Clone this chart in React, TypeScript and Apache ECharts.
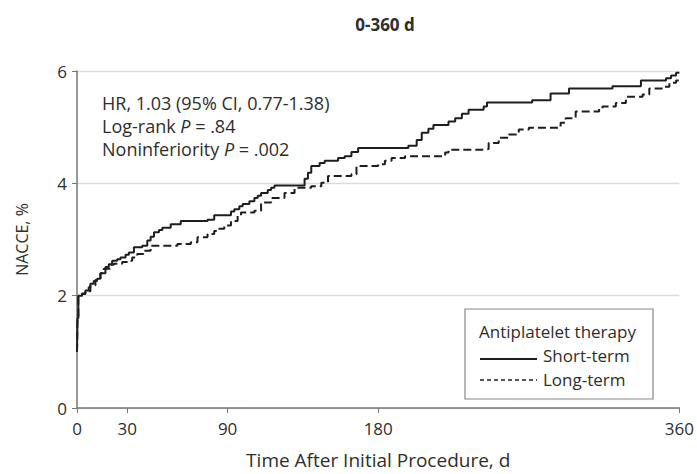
import React, { useEffect, useRef } from "react";
import * as echarts from "echarts";

const chartTitle = "0-360 d";
const xAxisName = "Time After Initial Procedure, d";
const yAxisName = "NACCE, %";
const xTickValues = [0, 30, 90, 180, 360];
const yMin = 0;
const yMax = 6;
const yInterval = 2;
const legendTitle = "Antiplatelet therapy";
const seriesNames = ["Short-term", "Long-term"];

// [day, cumulative incidence %] at each step
const shortTerm: [number, number][] = [
  [0, 1.0], [0.3, 1.6], [0.8, 2.0], [3, 2.04], [5, 2.09], [7, 2.15], [8, 2.21], [10, 2.26],
  [12, 2.3], [14, 2.4], [17, 2.51], [19, 2.56], [21, 2.62], [24, 2.65], [26, 2.68], [29, 2.73],
  [31, 2.77], [34, 2.86], [39, 2.89], [42, 2.98], [44, 3.05], [46, 3.13], [49, 3.17], [51, 3.21],
  [56, 3.27], [62, 3.33], [78, 3.35], [82, 3.43], [92, 3.5], [94, 3.54], [97, 3.59], [99, 3.63],
  [103, 3.68], [106, 3.74], [108, 3.78], [110, 3.83], [114, 3.88], [116, 3.92], [118, 3.96],
  [136, 4.08], [138, 4.19], [140, 4.31], [145, 4.36], [148, 4.4], [156, 4.45], [160, 4.48],
  [164, 4.56], [168, 4.63], [198, 4.67], [203, 4.77], [206, 4.9], [210, 4.97], [213, 5.04],
  [222, 5.1], [226, 5.16], [230, 5.24], [234, 5.31], [243, 5.37], [245, 5.44], [272, 5.48],
  [283, 5.6], [294, 5.69], [320, 5.73], [337, 5.83], [352, 5.87], [355, 5.92], [358, 5.97],
  [360, 5.97],
];

const longTerm: [number, number][] = [
  [0, 1.0], [0.3, 1.6], [0.8, 1.98], [3, 2.03], [5, 2.08], [8, 2.18], [11, 2.28], [14, 2.4],
  [16, 2.48], [20, 2.55], [22, 2.57], [27, 2.6], [30, 2.62], [33, 2.68], [36, 2.74], [40, 2.8],
  [44, 2.89], [60, 2.92], [68, 2.95], [72, 3.04], [78, 3.1], [82, 3.15], [84, 3.19], [88, 3.25],
  [92, 3.33], [96, 3.42], [98, 3.48], [106, 3.51], [110, 3.66], [116, 3.74], [124, 3.83],
  [130, 3.92], [140, 3.95], [146, 4.01], [150, 4.13], [164, 4.16], [167, 4.31], [180, 4.34],
  [184, 4.4], [188, 4.45], [196, 4.48], [220, 4.55], [222, 4.6], [242, 4.61], [246, 4.72],
  [252, 4.81], [258, 4.87], [264, 4.96], [270, 4.99], [289, 5.08], [292, 5.16], [298, 5.28],
  [312, 5.33], [314, 5.37], [322, 5.43], [328, 5.54], [338, 5.58], [342, 5.69], [350, 5.72],
  [354, 5.79], [358, 5.83], [360, 5.83],
];

const FONT = "'Open Sans', Roboto, sans-serif";
const TEXT = "#2e2e2e";
const FS = 17;
const AFS = 18;

export default function App() {
  const ref = useRef<HTMLDivElement>(null);
  useEffect(() => {
    if (!ref.current) return;
    const chart = echarts.init(ref.current, null, { renderer: "svg" });
    const base = { fontFamily: FONT, fontSize: FS, fill: TEXT, verticalAlign: "middle" };
    const annot = { ...base, fontSize: AFS };
    const rich = {
      a: { fontFamily: FONT, fontSize: AFS, color: TEXT },
      i: { fontFamily: FONT, fontSize: AFS, color: TEXT, fontStyle: "italic" },
    };
    chart.setOption({
      animation: false,
      backgroundColor: "#fff",
      title: {
        text: chartTitle,
        left: 380,
        top: 11,
        textAlign: "center",
        textStyle: { fontFamily: FONT, fontSize: 17, fontWeight: "bold", color: TEXT },
      },
      grid: { left: 77, right: 17, top: 71, bottom: 64, containLabel: false },
      xAxis: {
        type: "value",
        min: 0,
        max: 360,
        name: xAxisName,
        nameLocation: "middle",
        nameGap: 42,
        nameTextStyle: { fontFamily: FONT, fontSize: 19, color: TEXT },
        axisLine: { show: true, lineStyle: { color: "#777", width: 1.5 } },
        axisTick: { show: true, customValues: xTickValues, length: 5, lineStyle: { color: "#777" } },
        axisLabel: { customValues: xTickValues, fontFamily: FONT, fontSize: FS, color: TEXT, margin: 12 },
        splitLine: { show: false },
      },
      yAxis: {
        type: "value",
        min: yMin,
        max: yMax,
        interval: yInterval,
        name: yAxisName,
        nameLocation: "middle",
        nameGap: 47,
        nameTextStyle: { fontFamily: FONT, fontSize: 16, color: TEXT },
        axisLine: { show: true, lineStyle: { color: "#777", width: 1.5 } },
        axisTick: { show: true, length: 5, lineStyle: { color: "#777" } },
        axisLabel: { fontFamily: FONT, fontSize: FS, color: TEXT, margin: 10 },
        splitLine: { show: true, lineStyle: { color: "#dcdcdc", width: 1.3 } },
      },
      series: [
        {
          name: seriesNames[0],
          type: "line",
          step: "end",
          data: shortTerm,
          showSymbol: false,
          lineStyle: { color: "#1e1e1e", width: 2 },
          z: 3,
        },
        {
          name: seriesNames[1],
          type: "line",
          step: "end",
          data: longTerm,
          showSymbol: false,
          lineStyle: { color: "#1e1e1e", width: 2, type: [8, 4] },
          z: 2,
        },
      ],
      graphic: [
        { type: "text", x: 102, y: 103, style: { ...annot, text: "HR, 1.03 (95% CI, 0.77-1.38)" } },
        { type: "text", x: 102, y: 126, style: { ...annot, text: "{a|Log-rank }{i|P}{a| = .84}", rich } },
        { type: "text", x: 102, y: 149, style: { ...annot, text: "{a|Noninferiority }{i|P}{a| = .002}", rich } },
        {
          type: "rect",
          shape: { x: 465, y: 309, width: 188, height: 90 },
          style: { fill: "#fff", stroke: "#888", lineWidth: 1.2 },
          z: 10,
        },
        { type: "text", x: 479, y: 331, z: 11, style: { ...base, text: legendTitle } },
        {
          type: "line",
          shape: { x1: 480, y1: 359, x2: 537, y2: 359 },
          style: { stroke: "#1e1e1e", lineWidth: 2 },
          z: 11,
        },
        { type: "text", x: 543, y: 355, z: 11, style: { ...base, text: seriesNames[0] } },
        {
          type: "line",
          shape: { x1: 480, y1: 380, x2: 537, y2: 380 },
          style: { stroke: "#1e1e1e", lineWidth: 1.6, lineDash: [4, 3] },
          z: 11,
        },
        { type: "text", x: 543, y: 379, z: 11, style: { ...base, text: seriesNames[1] } },
      ],
    });
    return () => chart.dispose();
  }, []);
  return <div ref={ref} style={{ position: "absolute", left: 0, top: 0, width: 697, height: 474 }} />;
}
